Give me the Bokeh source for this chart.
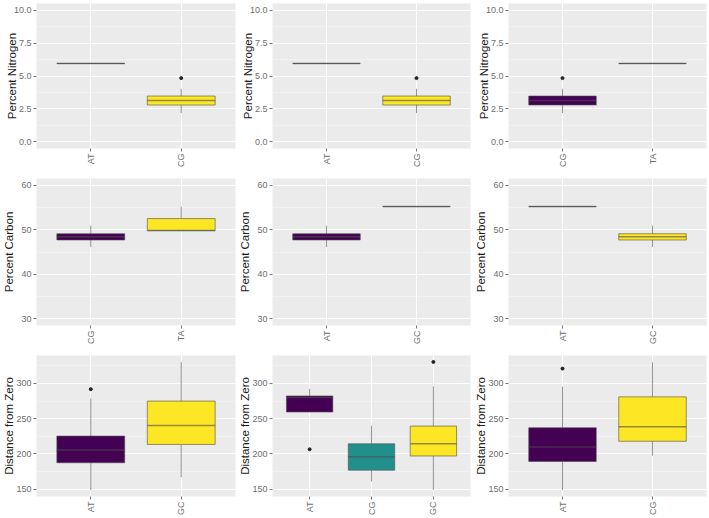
import numpy as np
from bokeh.plotting import figure
from bokeh.layouts import gridplot
from bokeh.models import FixedTicker, Range1d, FactorRange, NumeralTickFormatter, ColumnDataSource
from bokeh.embed import file_html
from bokeh.resources import INLINE

# ---------------- data (box statistics) ----------------
# Row 1: Percent Nitrogen
p1_cats = ["AT", "CG"]
p1_lo = [5.95, 2.19]
p1_q1 = [5.95, 2.80]
p1_med = [5.95, 3.15]
p1_q3 = [5.95, 3.48]
p1_hi = [5.95, 4.03]
p1_out = [[], [4.84]]

p2_cats = ["AT", "CG"]
p2_lo = [5.95, 2.19]
p2_q1 = [5.95, 2.80]
p2_med = [5.95, 3.15]
p2_q3 = [5.95, 3.48]
p2_hi = [5.95, 4.03]
p2_out = [[], [4.84]]

p3_cats = ["CG", "TA"]
p3_lo = [2.19, 5.95]
p3_q1 = [2.80, 5.95]
p3_med = [3.15, 5.95]
p3_q3 = [3.48, 5.95]
p3_hi = [4.03, 5.95]
p3_out = [[4.84], []]

# Row 2: Percent Carbon
p4_cats = ["CG", "TA"]
p4_lo = [46.1, 49.8]
p4_q1 = [47.7, 49.8]
p4_med = [48.4, 49.8]
p4_q3 = [49.1, 52.5]
p4_hi = [50.9, 55.2]
p4_out = [[], []]

p5_cats = ["AT", "GC"]
p5_lo = [46.1, 55.2]
p5_q1 = [47.7, 55.2]
p5_med = [48.4, 55.2]
p5_q3 = [49.1, 55.2]
p5_hi = [50.9, 55.2]
p5_out = [[], []]

p6_cats = ["AT", "GC"]
p6_lo = [55.2, 46.1]
p6_q1 = [55.2, 47.7]
p6_med = [55.2, 48.4]
p6_q3 = [55.2, 49.1]
p6_hi = [55.2, 50.9]
p6_out = [[], []]

# Row 3: Distance from Zero
p7_cats = ["AT", "GC"]
p7_lo = [148.6, 166.9]
p7_q1 = [187.4, 213.4]
p7_med = [205.6, 240.3]
p7_q3 = [225.2, 274.9]
p7_hi = [278.6, 330.1]
p7_out = [[291.8], []]

p8_cats = ["AT", "CG", "GC"]
p8_lo = [259.4, 160.9, 148.6]
p8_q1 = [259.4, 176.9, 197.0]
p8_med = [280.0, 196.0, 214.3]
p8_q3 = [282.2, 214.3, 239.4]
p8_hi = [292.2, 239.8, 295.9]
p8_out = [[206.5], [], [330.5]]

p9_cats = ["AT", "CG"]
p9_lo = [148.6, 197.4]
p9_q1 = [189.2, 217.9]
p9_med = [209.7, 238.4]
p9_q3 = [237.1, 280.9]
p9_hi = [295.4, 330.1]
p9_out = [[321.0], []]

# axis titles, ticks and limits per row
row_titles = ["Percent Nitrogen", "Percent Carbon", "Distance from Zero"]
row_ticks = [[0, 2.5, 5, 7.5, 10], [30, 40, 50, 60], [150, 200, 250, 300]]
row_minor = [[1.25, 3.75, 6.25, 8.75], [35, 45, 55], [175, 225, 275, 325]]
row_limits = [[0, 10], [30, 60], [148.6, 330.5]]
row_formats = ["0.0", "0", "0"]

# ---------------- style ----------------
VIRIDIS = {2: ["#440154", "#FDE725"], 3: ["#440154", "#21908C", "#FDE725"]}
FONT = "Liberation Sans"
col_w = [236, 236, 237]
col_bl = [34, 34, 33]
col_br = [1, 2, 3]
row_h = [175, 175, 168]
row_bt = [3, 3, 5]
row_bb = [27, 25, 17]
row_title_standoff = [-7, 3, -2]

panels = [
    (p1_cats, p1_lo, p1_q1, p1_med, p1_q3, p1_hi, p1_out),
    (p2_cats, p2_lo, p2_q1, p2_med, p2_q3, p2_hi, p2_out),
    (p3_cats, p3_lo, p3_q1, p3_med, p3_q3, p3_hi, p3_out),
    (p4_cats, p4_lo, p4_q1, p4_med, p4_q3, p4_hi, p4_out),
    (p5_cats, p5_lo, p5_q1, p5_med, p5_q3, p5_hi, p5_out),
    (p6_cats, p6_lo, p6_q1, p6_med, p6_q3, p6_hi, p6_out),
    (p7_cats, p7_lo, p7_q1, p7_med, p7_q3, p7_hi, p7_out),
    (p8_cats, p8_lo, p8_q1, p8_med, p8_q3, p8_hi, p8_out),
    (p9_cats, p9_lo, p9_q1, p9_med, p9_q3, p9_hi, p9_out),
]

OUTLINE = "#4d4d4d"
OUT_ALPHA = 0.6


def make_panel(idx, cats, lo, q1, med, q3, hi, out):
    r, c = divmod(idx, 3)
    lim = row_limits[r]
    span = lim[1] - lim[0]
    yr = Range1d(lim[0] - 0.05 * span, lim[1] + 0.05 * span)
    xr = FactorRange(factors=cats, range_padding=0.1, range_padding_units="absolute")
    p = figure(width=col_w[c], height=row_h[r], x_range=xr, y_range=yr,
               output_backend="svg", toolbar_location=None,
               min_border_left=col_bl[c], min_border_right=col_br[c],
               min_border_top=row_bt[r], min_border_bottom=row_bb[r])
    p.background_fill_color = "#EBEBEB"
    p.border_fill_color = "white"
    p.outline_line_color = None

    fills = VIRIDIS[len(cats)]
    src = ColumnDataSource(dict(cat=cats, lo=lo, q1=q1, med=med, q3=q3, hi=hi, fill=fills))
    p.segment(x0="cat", y0="q3", x1="cat", y1="hi", source=src,
              line_color=OUTLINE, line_alpha=OUT_ALPHA, line_width=1)
    p.segment(x0="cat", y0="q1", x1="cat", y1="lo", source=src,
              line_color=OUTLINE, line_alpha=OUT_ALPHA, line_width=1)
    p.vbar(x="cat", width=0.75, top="q3", bottom="q1", source=src,
           fill_color="fill", line_color=OUTLINE, line_alpha=OUT_ALPHA, line_width=1)
    p.vbar(x="cat", width=0.75, top="med", bottom="med", source=src,
           fill_color=None, line_color=OUTLINE, line_alpha=OUT_ALPHA, line_width=1.5)
    ox, oy = [], []
    for cat, vals in zip(cats, out):
        for v in vals:
            ox.append(cat)
            oy.append(v)
    if ox:
        p.scatter(x=ox, y=oy, size=3, color="#222222")

    # grid
    p.xgrid.grid_line_color = "white"
    p.xgrid.grid_line_width = 1
    p.ygrid.grid_line_color = "white"
    p.ygrid.grid_line_width = 1
    p.ygrid.minor_grid_line_color = "white"
    p.ygrid.minor_grid_line_alpha = 0.6
    p.ygrid.minor_grid_line_width = 0.6

    # y axis
    p.yaxis.ticker = FixedTicker(ticks=row_ticks[r], minor_ticks=row_minor[r])
    p.yaxis.formatter = NumeralTickFormatter(format=row_formats[r])
    p.yaxis.axis_label = row_titles[r]
    p.yaxis.axis_label_text_font = FONT
    p.yaxis.axis_label_text_font_style = "normal"
    p.yaxis.axis_label_text_font_size = "11.5px"
    p.yaxis.axis_label_text_line_height = 0.9
    p.yaxis.axis_label_text_color = "#1a1a1a"
    p.yaxis.axis_label_standoff = row_title_standoff[r]
    p.yaxis.major_label_text_font = FONT
    p.yaxis.major_label_text_font_size = "9px"
    p.yaxis.major_label_text_color = "#6e6e6e"
    p.yaxis.major_label_standoff = 1
    p.yaxis.axis_line_color = None
    p.yaxis.major_tick_in = 0
    p.yaxis.major_tick_out = 3
    p.yaxis.major_tick_line_color = "#7a7a7a"
    p.yaxis.minor_tick_line_color = None

    # x axis
    p.xaxis.major_label_orientation = np.pi / 2
    p.xaxis.major_label_text_font = FONT
    p.xaxis.major_label_text_font_size = "9px"
    p.xaxis.major_label_text_color = "#6e6e6e"
    p.xaxis.major_label_standoff = 2
    p.xaxis.axis_line_color = None
    p.xaxis.major_tick_in = 0
    p.xaxis.major_tick_out = 3
    p.xaxis.major_tick_line_color = "#7a7a7a"
    p.xaxis.minor_tick_line_color = None
    return p


figs = [make_panel(i, *args) for i, args in enumerate(panels)]
grid = gridplot([figs[0:3], figs[3:6], figs[6:9]], toolbar_location=None)

open("out.html", "w").write(file_html(grid, INLINE))
